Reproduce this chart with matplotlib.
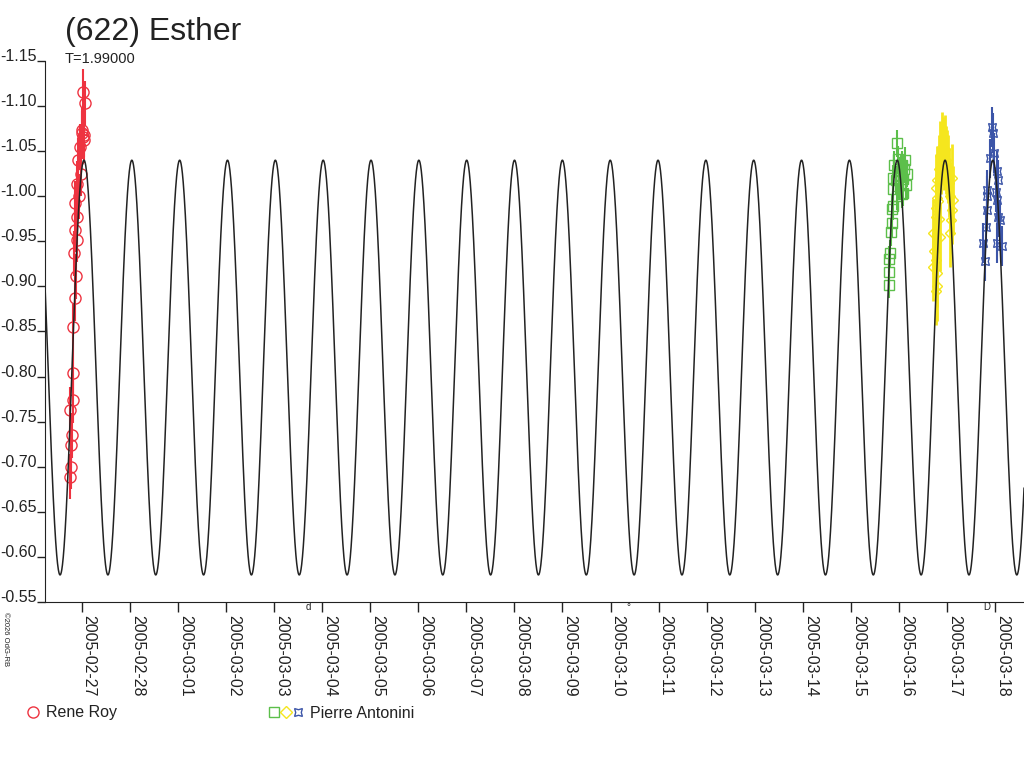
import datetime
import numpy as np
import matplotlib
matplotlib.use('Agg')
import matplotlib.pyplot as plt
from matplotlib.legend_handler import HandlerTuple

plt.rcParams['font.family'] = ['Liberation Sans', 'DejaVu Sans']

# x in days since 2005-02-27 00:00, y in reduced magnitude
start = datetime.date(2005, 2, 27)
n_days = 20
tick_labels = [(start + datetime.timedelta(days=i)).isoformat() for i in range(n_days)]

# model lightcurve (composite fit)
period_h = 1.99
period_days = 12 * period_h / 24.0
epoch_max = 0.048
mag_mean = -0.81
mag_amp = 0.23

# Rene Roy
roy_t = [0.033, 0.069, 0.000, 0.021, 0.010, 0.040, 0.055, -0.035, -0.071, -0.021,
         -0.092, -0.050, -0.139, -0.092, -0.139, -0.104, -0.160, -0.119, -0.146,
         -0.175, -0.175, -0.187, -0.243, -0.208, -0.229, -0.229, -0.243]
roy_m = [-1.116, -1.103, -1.073, -1.066, -1.070, -1.068, -1.062, -1.055, -1.040, -1.025,
         -1.014, -1.000, -0.992, -0.977, -0.963, -0.952, -0.937, -0.911, -0.887,
         -0.855, -0.804, -0.774, -0.763, -0.735, -0.724, -0.700, -0.689]

# Pierre Antonini, session 1 (green)
pa1_t = [16.954, 16.975, 16.904, 17.058, 17.092, 17.080, 16.872, 16.954, 16.872, 16.851,
         16.851, 16.830, 16.815, 16.801, 16.801, 16.788, 16.996, 17.037, 17.100, 17.142,
         17.017, 17.058, 16.933, 17.121, 16.879, 17.163]
pa1_m = [-1.059, -1.041, -1.035, -1.035, -1.019, -1.004, -1.008, -1.000, -0.989, -0.986,
         -0.970, -0.960, -0.937, -0.930, -0.916, -0.902, -1.028, -1.022, -1.030, -1.012,
         -1.012, -1.002, -1.018, -1.040, -1.020, -1.025]

# Pierre Antonini, session 2 (yellow)
pa2_t = [17.790, 17.770, 17.790, 17.770, 17.770, 17.716, 17.731, 17.770, 17.716, 17.790,
         18.099, 18.132, 18.099, 18.078, 18.063, 17.831, 17.852, 17.873, 17.893, 17.914,
         17.935, 17.956, 17.977, 17.998, 18.019, 18.040, 18.061, 17.811, 17.831, 17.862,
         17.790, 17.780]
pa2_m = [-1.018, -1.009, -0.998, -0.987, -0.977, -0.959, -0.939, -0.929, -0.922, -0.915,
         -1.020, -0.996, -0.985, -0.974, -0.959, -1.030, -1.045, -1.040, -1.055, -1.050,
         -1.045, -1.052, -1.040, -1.035, -1.030, -1.015, -1.000, -0.995, -0.975, -0.955,
         -0.900, -0.895]

# Pierre Antonini, session 3 (blue)
pa3_t = [18.931, 18.952, 18.896, 18.979, 19.035, 19.068, 18.826, 19.021, 19.035, 18.826,
         18.826, 19.068, 19.103, 18.811, 18.756, 19.141, 18.791, 19.035]
pa3_m = [-1.077, -1.070, -1.042, -1.048, -1.028, -1.018, -1.007, -1.005, -0.996, -1.000,
         -0.985, -0.977, -0.974, -0.966, -0.948, -0.945, -0.928, -0.948]

roy_err = 0.025
pa1_err = 0.015
pa2_err = 0.038
pa3_err = 0.022

red = '#ee3340'
green = '#5cbf4a'
yellow = '#f5e61e'
blue = '#3c55a8'
ink = '#222222'

fig = plt.figure(figsize=(10.24, 7.68), dpi=100)
ax = fig.add_axes([45 / 1024, 166 / 768, 979 / 1024, 541 / 768])

ax.errorbar(roy_t, roy_m, yerr=roy_err, fmt='o', ms=8, mfc='none', mec=red, mew=1,
            ecolor=red, elinewidth=1.5, capsize=0, zorder=2)
ax.errorbar(pa1_t, pa1_m, yerr=pa1_err, fmt='s', ms=7, mfc='none', mec=green, mew=1,
            ecolor=green, elinewidth=1.5, capsize=0, zorder=2)
ax.errorbar(pa2_t, pa2_m, yerr=pa2_err, fmt='D', ms=5, mfc='none', mec=yellow, mew=1,
            ecolor=yellow, elinewidth=2, capsize=0, zorder=2)
ax.errorbar(pa3_t, pa3_m, yerr=pa3_err, fmt='none', ecolor=blue, elinewidth=1.5,
            capsize=0, zorder=2)
ax.plot(pa3_t, pa3_m, ls='none', marker=(4, 1, 45), ms=8, mfc='none', mec=blue,
        mew=1, zorder=2)

t = np.linspace(-0.8, 19.7, 6000)
model = mag_mean - mag_amp * np.cos(2 * np.pi * (t - epoch_max) / period_days)
ax.plot(t, model, color=ink, lw=1.1, zorder=3)

ax.set_xlim(-0.763, 19.60)
ax.set_ylim(-0.55, -1.15)
yt = np.round(np.arange(-1.15, -0.549, 0.05), 2)
ax.set_yticks(yt)
ax.set_yticklabels(['%.2f' % v for v in yt])
ax.set_xticks(range(n_days))
ax.set_xticklabels(tick_labels, rotation=270, ha='left', va='top')
ax.tick_params(axis='y', direction='out', length=6, width=1, pad=0,
               labelsize=11.5, colors=ink)
ax.tick_params(axis='x', direction='out', length=7.5, width=1, pad=2,
               labelsize=11.5, colors=ink)
for lab in ax.get_yticklabels():
    lab.set_va('baseline')
for s in ['top', 'right']:
    ax.spines[s].set_visible(False)
for s in ['left', 'bottom']:
    ax.spines[s].set_color(ink)

fig.text(65 / 1024, 1 - 40 / 768, '(622) Esther', fontsize=23, color=ink)
fig.text(65 / 1024, 1 - 63 / 768, 'T=1.99000', fontsize=10.5, color=ink)
fig.text(2 / 1024, 1 - 612 / 768, '\u00a92026 OdG-RB', fontsize=5.5, rotation=270,
         va='top', ha='left', color=ink)
for day, mark in [(4.72, 'd'), (11.38, '\u00b0'), (18.83, 'D')]:
    ax.text(day, -0.55, mark, fontsize=7, color=ink, ha='center', va='top',
            transform=ax.transData)

h_roy, = ax.plot([], [], 'o', ms=8, mfc='none', mec=red, mew=1)
h_g, = ax.plot([], [], 's', ms=7, mfc='none', mec=green, mew=1)
h_y, = ax.plot([], [], 'D', ms=6, mfc='none', mec=yellow, mew=1)
h_b, = ax.plot([], [], ls='none', marker=(4, 1, 45), ms=8, mfc='none', mec=blue, mew=1)
fig.legend([h_roy], ['Rene Roy'], loc='center left',
           bbox_to_anchor=(25 / 1024, 1 - 713 / 768), frameon=False, borderpad=0,
           borderaxespad=0, handlelength=1.0, handletextpad=0.3, fontsize=11.5,
           labelcolor=ink)
fig.legend([(h_g, h_y, h_b)], ['Pierre Antonini'], loc='center left',
           bbox_to_anchor=(268 / 1024, 1 - 713 / 768), frameon=False, borderpad=0,
           borderaxespad=0, handlelength=2.25, handletextpad=0.35, fontsize=11.5,
           labelcolor=ink, handler_map={tuple: HandlerTuple(ndivide=None, pad=0)})

fig.savefig('out.png', dpi=100)
